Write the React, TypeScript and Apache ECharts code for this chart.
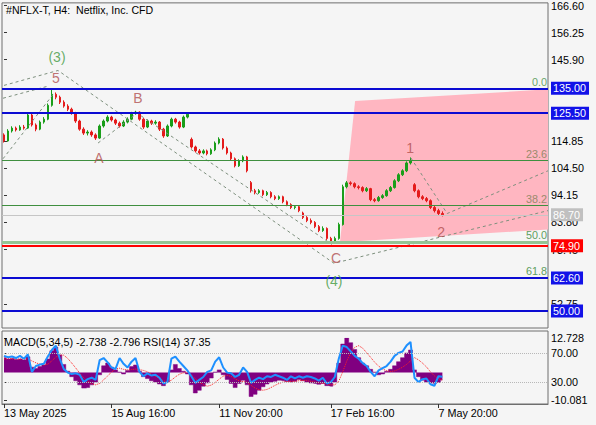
import React, { useEffect, useRef } from "react";
import * as echarts from "echarts";

const FONT = "'Liberation Sans', Arial, sans-serif";

// x axis: one slot per H4 bar (value axis, bar index)
const xMin = -0.5;
const xMax = 136.5;
const tickIndex = [0, 27, 54, 82, 109];
const tickText = ["13 May 2025", "15 Aug 16:00", "11 Nov 20:00", "17 Feb 16:00", "7 May 20:00"];

// price panel
const priceMin = 43.5;
const priceMax = 167.6;
const priceTicks = [166.6, 156.25, 145.9, 114.85, 104.5, 94.15, 83.8, 73.45, 52.75];
const blueLevels = [135.0, 125.5, 62.6, 50.0];
const redLevel = 74.9;
const lastPrice = 86.7;
const fibLevels = [135.0, 107.4, 90.2, 76.4, 62.6];
const fibNames = ["0.0", "23.6", "38.2", "50.0", "61.8"];

const opens = [
  117.2, 114.9, 118.7, 119.8, 119.1, 120.2, 119.8, 124.8, 121.0, 119.4,
  122.1, 123.2, 128.5, 132.7, 131.6, 129.7, 128.2, 127.0, 125.5, 122.5,
  119.4, 117.9, 118.3, 117.2, 116.0, 120.6, 122.5, 124.0, 122.9, 121.7,
  120.6, 122.1, 123.2, 125.5, 125.9, 123.2, 120.2, 122.5, 121.7, 122.1,
  119.4, 116.8, 120.6, 123.2, 122.1, 120.2, 124.0, 115.5, 112.6, 111.1,
  110.3, 111.1, 110.0, 111.5, 114.1, 115.6, 112.2, 110.3, 108.1, 105.4,
  107.3, 108.8, 99.0, 95.9, 95.2, 95.9, 94.4, 95.2, 93.6, 92.9,
  93.6, 91.7, 90.6, 89.5, 89.8, 87.4, 85.7, 84.5, 83.8, 82.2,
  80.7, 81.5, 77.7, 76.6, 77.7, 83.0, 97.4, 98.9, 98.6, 97.4,
  97.1, 95.9, 96.7, 92.5, 92.1, 93.3, 94.0, 95.9, 97.1, 99.7,
  102.0, 103.5, 106.5, 98.2, 95.9, 93.6, 92.9, 92.1, 89.5, 88.3,
  87.2,
];
const closes = [
  114.9, 118.7, 119.8, 119.1, 120.2, 119.8, 124.8, 121.0, 119.4, 122.1,
  123.2, 128.5, 132.7, 131.6, 129.7, 128.2, 127.0, 125.5, 122.5, 119.4,
  117.9, 118.3, 117.2, 116.0, 120.6, 122.5, 124.0, 122.9, 121.7, 120.6,
  122.1, 123.2, 125.5, 125.9, 123.2, 120.2, 122.5, 121.7, 122.1, 119.4,
  116.8, 120.6, 123.2, 122.1, 120.2, 124.0, 125.1, 112.6, 111.1, 110.3,
  111.1, 110.0, 111.5, 114.1, 115.6, 112.2, 110.3, 108.1, 105.4, 107.3,
  108.8, 103.5, 95.9, 95.2, 95.9, 94.4, 95.2, 93.6, 92.9, 93.6,
  91.7, 90.6, 89.5, 89.8, 88.3, 85.7, 84.5, 83.8, 82.2, 80.7,
  81.5, 77.7, 76.6, 77.7, 83.0, 97.4, 98.9, 98.6, 97.4, 97.1,
  95.9, 96.7, 92.5, 92.1, 93.3, 94.0, 95.9, 97.1, 99.7, 102.0,
  103.5, 106.5, 107.3, 95.9, 93.6, 92.9, 92.1, 89.5, 88.3, 87.2,
  86.7,
];
const lows = [
  114.3, 114.6, 118.1, 118.5, 118.8, 119.2, 119.5, 120.4, 118.6, 119.0,
  121.5, 122.8, 128.0, 130.8, 129.0, 127.6, 126.3, 124.9, 121.8, 118.8,
  117.2, 117.0, 116.5, 115.3, 115.7, 120.0, 122.0, 122.3, 121.0, 120.0,
  120.2, 121.6, 122.8, 124.9, 122.6, 119.5, 119.8, 121.0, 121.1, 118.7,
  116.1, 116.4, 120.1, 121.5, 119.6, 119.8, 123.5, 112.0, 110.5, 109.7,
  109.8, 109.4, 109.6, 111.0, 113.6, 111.6, 109.7, 107.5, 104.8, 105.0,
  106.8, 102.9, 95.2, 94.5, 94.7, 93.8, 93.9, 93.0, 92.3, 92.4,
  91.1, 90.0, 88.9, 88.8, 87.7, 85.1, 83.9, 83.1, 81.6, 80.1,
  80.2, 77.1, 75.8, 76.0, 77.2, 82.6, 96.8, 97.9, 96.8, 96.4,
  95.3, 95.4, 91.9, 91.5, 91.7, 92.8, 93.6, 95.4, 96.7, 99.2,
  101.5, 103.0, 105.9, 95.3, 93.0, 92.3, 91.5, 88.9, 87.6, 86.4,
  86.1,
];
const highs = [
  117.8, 119.4, 120.5, 120.4, 120.9, 121.0, 125.4, 125.2, 121.6, 122.7,
  124.0, 129.2, 134.5, 133.4, 132.2, 130.4, 128.9, 127.6, 126.0, 123.0,
  120.1, 119.0, 118.9, 117.8, 121.2, 123.1, 124.7, 124.5, 123.4, 122.3,
  122.8, 123.9, 126.0, 126.4, 126.2, 123.6, 123.1, 123.0, 122.8, 122.5,
  119.9, 121.2, 123.8, 123.7, 122.6, 124.6, 125.6, 116.2, 113.1, 111.8,
  111.7, 111.6, 112.1, 114.7, 116.3, 116.0, 112.8, 110.8, 108.6, 107.9,
  109.4, 109.2, 99.6, 96.6, 96.5, 96.3, 95.8, 95.7, 94.2, 94.1,
  94.0, 92.2, 91.1, 90.4, 90.2, 87.9, 86.2, 85.3, 84.3, 82.8,
  82.3, 81.9, 78.3, 78.4, 83.7, 98.2, 99.6, 99.5, 99.1, 98.0,
  97.6, 97.3, 97.0, 93.1, 93.9, 94.6, 96.5, 97.7, 100.3, 102.6,
  104.1, 107.1, 108.6, 98.8, 96.4, 94.2, 93.5, 92.6, 90.1, 89.0,
  88.0,
];

// indicator panel
const rsiLevels = [30, 70];
const macdRange = [-10.081, 12.728];
const macd = [
  5.5, 5.0, 5.2, 4.8, 5.0, 4.6, 5.8, 2.0, 1.5, 2.2,
  2.8, 5.0, 8.0, 9.4, 6.5, 3.0, 0.5, -1.5, -3.0, -4.5,
  -5.7, -5.5, -4.5, -3.5, -0.8, 2.5, 3.5, 2.0, 1.0, 0.2,
  -0.5, 0.8, 2.2, 2.8, 0.5, -1.5, -2.2, -3.0, -3.5, -4.2,
  -4.8, -3.5, 1.0, 3.0, 1.5, 0.5, -0.5, -4.5, -7.5, -6.5,
  -5.0, -3.8, -2.0, 0.2, 1.0, -0.8, -2.5, -4.0, -5.5, -4.0,
  -2.8, -4.5, -8.8, -8.0, -6.5, -5.2, -4.2, -3.5, -3.2, -2.8,
  -3.0, -3.3, -3.5, -3.2, -2.5, -3.0, -3.5, -3.8, -4.0, -4.3,
  -4.0, -4.8, -5.0, -3.5, 3.5, 10.5, 12.7, 11.0, 8.5, 5.5,
  3.5, 2.5, 1.2, 0.2, -0.8, -0.5, 0.5, 1.2, 2.5, 4.0,
  5.5, 7.2, 8.3, 1.0, -1.5, -2.8, -3.5, -3.8, -4.0, -3.6,
  -2.738,
];
const signal = [
  5.0, 5.1, 5.1, 5.0, 5.0, 4.9, 5.1, 4.3, 3.6, 3.1,
  2.8, 3.1, 4.3, 5.7, 6.5, 6.4, 5.2, 3.5, 1.7, -0.2,
  -1.9, -3.2, -4.1, -4.5, -4.0, -2.7, -1.2, 0.2, 1.3, 1.6,
  1.2, 1.0, 1.1, 1.3, 1.1, 0.8, 0.3, -0.5, -1.4, -2.2,
  -3.0, -3.4, -2.8, -1.6, -0.6, -0.1, 0.2, -0.7, -2.3, -3.5,
  -4.4, -5.0, -4.6, -3.6, -2.4, -1.3, -1.0, -1.4, -2.3, -3.0,
  -3.3, -3.6, -4.7, -5.7, -6.3, -6.5, -6.2, -5.5, -4.7, -4.0,
  -3.5, -3.3, -3.2, -3.2, -3.0, -2.9, -3.0, -3.2, -3.5, -3.8,
  -3.9, -4.2, -4.5, -4.5, -3.2, 0.3, 4.2, 7.4, 9.3, 9.9,
  9.0, 7.3, 5.6, 3.8, 2.4, 1.3, 0.7, 0.4, 0.6, 1.2,
  2.0, 3.0, 4.3, 5.5, 4.7, 3.5, 2.1, 0.3, -1.2, -2.2,
  -2.796,
];
const rsi = [
  66, 64, 65, 63, 66, 62, 68, 44, 52, 54,
  55, 65, 74, 80, 62, 48, 43, 41, 42, 40,
  30, 34, 36, 33, 60, 63, 57, 50, 48, 63,
  55, 50, 58, 63, 44, 38, 42, 39, 40, 36,
  28, 30, 62, 65, 58, 52, 46, 38, 29, 33,
  37, 44, 46, 58, 64, 50, 43, 42, 37, 40,
  50, 44, 29, 33, 36, 34, 38, 37, 40, 38,
  36, 33, 38, 35, 38, 36, 38, 37, 35, 32,
  36, 28, 30, 37, 62, 80, 78, 72, 66, 62,
  56, 52, 44, 38, 46, 49, 52, 58, 66, 70,
  72, 80, 85, 36, 30, 34, 35, 27, 25, 38,
  37.35,
];

// Elliott wave annotations (bar index, price)
const waveNames = ["(3)", "5", "A", "B", "C", "(4)", "1", "2"];
const waveIdx = [13.3, 13.05, 23.8, 33.6, 83.3, 82.8, 101.9, 109.7];
const wavePrice = [147.1, 138.8, 108.4, 131.2, 70.1, 61.4, 112.2, 80.0];

const pathDegree = [
  [0.0, 136.1], [13.55, 141.8], [82.8, 68.2], [136.5, 88.3],
];
const pathWave45 = [
  [-0.25, 108.1], [12.55, 133.1],
];
const pathABC = [
  [23.6, 114.1], [33.4, 125.5], [82.3, 75.4],
];
const path12 = [
  [102.1, 108.4], [111.2, 87.2], [136.5, 103.5],
];
const pathChannel = [
  [-0.25, 131.2], [11.0, 135.8],
];
const pinkZone = [
  [84.3, 76.2], [88.1, 130.1], [136.5, 134.6], [136.5, 81.1],
];

const axisText = { color: "#000", fontSize: 10.8, fontFamily: FONT };
const boxLabel = (txt: string, bg: string) => ({
  show: true,
  position: "end",
  formatter: txt,
  backgroundColor: bg,
  color: "#fff",
  padding: [1, 3, 0, 2],
  distance: 3,
  fontSize: 10.8,
  fontFamily: FONT,
  lineHeight: 12,
});

function buildOption(): any {
  const candles = closes.map((c, i) => [i, opens[i], c, lows[i], highs[i]]);
  const fibColors = ["#6aa66a", "#9a8a6c", "#9a8a6c", "#5e9e5e", "#5e9e5e"];
  const markData: any[] = [
    ...fibLevels.map((p, k) => ({
      yAxis: p,
      lineStyle: { color: k === 3 ? "#94c494" : "#3f8f3f", width: k === 3 ? 3 : 1, type: "solid" },
      label: {
        show: true,
        position: "insideEndTop",
        formatter: fibNames[k],
        color: fibColors[k],
        fontSize: 10.8,
        fontFamily: FONT,
        distance: 1,
      },
    })),
    { yAxis: lastPrice, lineStyle: { color: "#c6c6c6", width: 1, type: "solid" }, label: boxLabel(lastPrice.toFixed(2), "#c0c0c0") },
    { yAxis: redLevel, lineStyle: { color: "#ff0000", width: 2, type: "solid" }, label: boxLabel(redLevel.toFixed(2), "#ff0000") },
    ...blueLevels.map((p) => ({
      yAxis: p,
      lineStyle: { color: "#0b0bd2", width: 2, type: "solid" },
      label: boxLabel(p.toFixed(2), "#1212e8"),
    })),
  ];
  const dashed = [pathDegree, pathWave45, pathABC, path12, pathChannel].map((d) => ({
    type: "line",
    xAxisIndex: 0,
    yAxisIndex: 0,
    data: d,
    symbol: "none",
    silent: true,
    z: 4,
    lineStyle: { color: "#7d8f7d", width: 1, type: [3, 3] },
  }));
  return {
    animation: false,
    backgroundColor: "#f5f5f5",
    textStyle: { fontFamily: FONT },
    grid: [
      { left: 2, right: 48, top: 1, height: 327, show: true, borderColor: "#6e6e6e", borderWidth: 1 },
      { left: 2, right: 48, top: 331, height: 73, show: true, borderColor: "#6e6e6e", borderWidth: 1 },
      { left: 2, right: 48, top: 338, height: 62 },
    ],
    xAxis: [
      { type: "value", gridIndex: 0, min: xMin, max: xMax, show: false },
      {
        type: "value",
        gridIndex: 1,
        min: xMin,
        max: xMax,
        splitLine: { show: false },
        axisLine: { show: true, lineStyle: { color: "#6e6e6e" } },
        axisTick: { show: true, customValues: tickIndex, length: 4, lineStyle: { color: "#333" } },
        axisLabel: {
          customValues: tickIndex,
          formatter: (v: number) => tickText[tickIndex.indexOf(v)] ?? "",
          align: "left",
          margin: 3,
          ...axisText,
        },
      },
      { type: "value", gridIndex: 2, min: xMin, max: xMax, show: false },
    ],
    yAxis: [
      {
        type: "value",
        gridIndex: 0,
        position: "right",
        min: priceMin,
        max: priceMax,
        splitLine: { show: false },
        axisLine: { show: false },
        axisTick: { show: true, customValues: priceTicks, length: 3, lineStyle: { color: "#333" } },
        axisLabel: { customValues: priceTicks, formatter: (v: number) => v.toFixed(2), margin: 3, ...axisText },
      },
      {
        type: "value",
        gridIndex: 1,
        position: "right",
        min: 0,
        max: 100,
        splitLine: { show: false },
        axisLine: { show: false },
        axisTick: { show: true, customValues: rsiLevels, length: 3, lineStyle: { color: "#333" } },
        axisLabel: { customValues: rsiLevels, formatter: (v: number) => v.toFixed(2), margin: 3, ...axisText },
      },
      {
        type: "value",
        gridIndex: 2,
        position: "right",
        min: macdRange[0],
        max: macdRange[1],
        splitLine: { show: false },
        axisLine: { show: false },
        axisTick: { show: true, customValues: macdRange, length: 3, lineStyle: { color: "#333" } },
        axisLabel: { customValues: macdRange, formatter: (v: number) => v.toFixed(3), margin: 3, ...axisText },
      },
    ],
    graphic: [
      {
        type: "text",
        left: 6,
        top: 4,
        z: 100,
        style: { text: "#NFLX-T, H4:  Netflix, Inc. CFD", fill: "#000", font: `10.6px ${FONT}` },
      },
      {
        type: "text",
        left: 4,
        top: 336,
        z: 100,
        style: {
          text: `MACD(5,34,5) ${macd[macd.length - 1].toFixed(3)} ${signal[signal.length - 1].toFixed(3)} RSI(14) ${rsi[rsi.length - 1].toFixed(2)}`,
          fill: "#000",
          font: `10.8px ${FONT}`,
        },
      },
    ],
    series: [
      {
        type: "custom",
        xAxisIndex: 0,
        yAxisIndex: 0,
        z: 1,
        silent: true,
        data: [[0, 0]],
        renderItem: (_p: any, api: any) => ({
          type: "polygon",
          shape: { points: pinkZone.map((pt) => api.coord(pt)) },
          style: { fill: "#ffb6c1" },
        }),
      },
      {
        type: "candlestick",
        xAxisIndex: 0,
        yAxisIndex: 0,
        z: 3,
        data: candles,
        encode: { x: 0, y: [1, 2, 3, 4] },
        barWidth: 2,
        itemStyle: {
          color: "#1a9e1a",
          color0: "#e41b1b",
          borderColor: "#1a9e1a",
          borderColor0: "#e41b1b",
          borderWidth: 1,
        },
        markLine: { silent: true, symbol: ["none", "none"], animation: false, data: markData },
      },
      ...dashed,
      {
        type: "scatter",
        xAxisIndex: 0,
        yAxisIndex: 0,
        z: 5,
        silent: true,
        symbolSize: 1,
        itemStyle: { color: "rgba(0,0,0,0)" },
        data: waveNames.map((n, k) => ({
          value: [waveIdx[k], wavePrice[k]],
          label: { color: n.startsWith("(") ? "#3f9a3f" : "#b04f4f" },
        })),
        label: {
          show: true,
          position: "inside",
          formatter: (p: any) => waveNames[p.dataIndex],
          fontSize: 14,
          fontFamily: FONT,
        },
      },
      {
        type: "line",
        xAxisIndex: 2,
        yAxisIndex: 2,
        z: 2,
        silent: true,
        symbol: "none",
        step: "middle",
        data: macd.map((v, i) => [i, v]),
        lineStyle: { color: "#800080", width: 0.5 },
        areaStyle: { color: "#800080", opacity: 1 },
      },
      {
        type: "line",
        xAxisIndex: 2,
        yAxisIndex: 2,
        z: 3,
        silent: true,
        symbol: "none",
        data: signal.map((v, i) => [i, v]),
        lineStyle: { color: "#ff2020", width: 1, type: "dotted" },
      },
      {
        type: "line",
        xAxisIndex: 1,
        yAxisIndex: 1,
        z: 4,
        silent: true,
        symbol: "none",
        data: rsi.map((v, i) => [i, v]),
        lineStyle: { color: "#1e90ff", width: 2 },
        markLine: {
          silent: true,
          symbol: ["none", "none"],
          animation: false,
          label: { show: false },
          lineStyle: { color: "#b8b8b8", width: 1, type: "dotted" },
          data: rsiLevels.map((v) => ({ yAxis: v })),
        },
      },
    ],
  };
}

export default function App() {
  const ref = useRef<HTMLDivElement>(null);
  useEffect(() => {
    document.body.style.margin = "0";
    const chart = echarts.init(ref.current!, null, { renderer: "svg" });
    chart.setOption(buildOption());
    return () => chart.dispose();
  }, []);
  return <div ref={ref} style={{ width: 596, height: 425 }} />;
}
